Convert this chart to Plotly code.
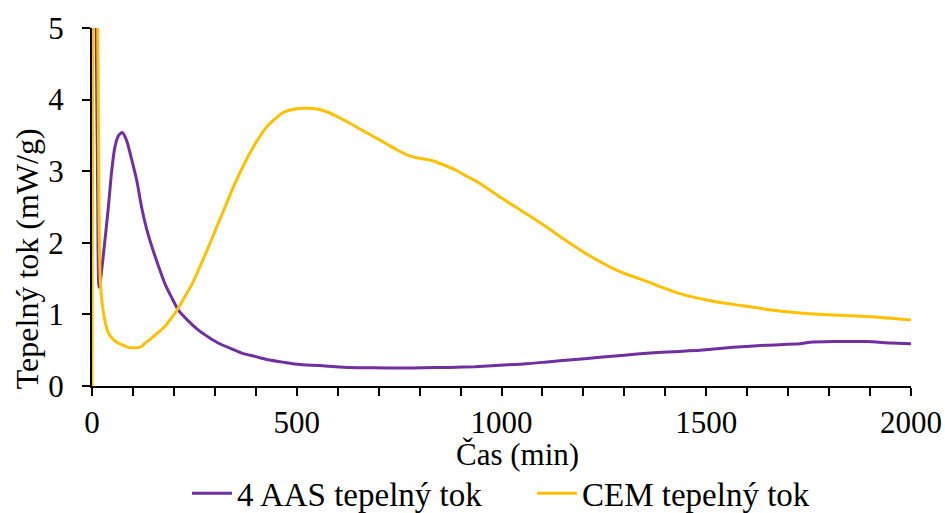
import plotly.graph_objects as go

# 4 AAS heat flow (purple)
aas_t = [0, 8, 11, 14, 17, 20, 30, 40, 48, 56, 65, 74, 85, 97, 110, 121, 133, 146, 162, 178,
         195, 211, 235, 260, 285, 308, 340, 366, 400, 427, 470, 508, 570, 630, 690, 752, 810,
         874, 935, 996, 1060, 1118, 1180, 1240, 1300, 1363, 1420, 1485, 1566, 1648, 1729,
         1753, 1810, 1892, 1950, 2000]
aas_v = [8.0, 6.0, 4.5, 2.6, 1.38, 1.45, 1.95, 2.50, 3.00, 3.34, 3.50, 3.54, 3.42, 3.16, 2.85,
         2.50, 2.20, 1.95, 1.68, 1.43, 1.23, 1.06, 0.91, 0.78, 0.68, 0.60, 0.52, 0.46, 0.41,
         0.37, 0.33, 0.30, 0.28, 0.26, 0.255, 0.25, 0.255, 0.26, 0.27, 0.29, 0.31, 0.34, 0.37,
         0.40, 0.43, 0.46, 0.48, 0.50, 0.54, 0.57, 0.59, 0.61, 0.62, 0.62, 0.60, 0.59]

# CEM heat flow (yellow)
cem_t = [0, 3, 8, 14, 17, 20, 28, 40, 52, 64, 76, 89, 103, 117, 123, 129, 137, 146, 162, 178,
         190, 203, 215, 227, 245, 260, 285, 308, 330, 349, 370, 390, 408, 427, 447, 467, 495,
         524, 550, 573, 600, 630, 660, 695, 720, 744, 777, 800, 830, 858, 890, 915, 947, 996,
         1029, 1070, 1110, 1150, 1192, 1230, 1273, 1310, 1355, 1395, 1436, 1485, 1530, 1566,
         1648, 1729, 1810, 1892, 1950, 2000]
cem_v = [0.0, 8.0, 7.0, 5.0, 2.5, 1.5, 1.02, 0.74, 0.65, 0.60, 0.57, 0.54, 0.535, 0.54, 0.56,
         0.60, 0.63, 0.67, 0.75, 0.83, 0.92, 1.02, 1.13, 1.25, 1.43, 1.62, 1.95, 2.27, 2.57,
         2.83, 3.08, 3.30, 3.47, 3.62, 3.73, 3.82, 3.87, 3.88, 3.87, 3.83, 3.76, 3.67, 3.57,
         3.46, 3.38, 3.30, 3.21, 3.18, 3.15, 3.09, 3.01, 2.93, 2.83, 2.64, 2.52, 2.37, 2.22,
         2.06, 1.90, 1.77, 1.64, 1.55, 1.46, 1.37, 1.29, 1.22, 1.17, 1.14, 1.07, 1.02, 0.99,
         0.97, 0.945, 0.92]

series_names = ["4 AAS tepelný tok", "CEM tepelný tok"]
x_title = "Čas (min)"
y_title = "Tepelný tok (mW/g)"

FONT = "Times New Roman"
fig = go.Figure()
fig.add_trace(go.Scatter(x=aas_t, y=aas_v, mode="lines", name=series_names[0],
                         line=dict(color="#7030A0", width=3, shape="spline", smoothing=0.6)))
fig.add_trace(go.Scatter(x=cem_t, y=cem_v, mode="lines", name=series_names[1],
                         line=dict(color="#FFC000", width=3, shape="spline", smoothing=0.6)))

fig.update_layout(
    width=945, height=513,
    margin=dict(l=92, r=34, t=28, b=127, autoexpand=False),
    plot_bgcolor="white", paper_bgcolor="white",
    font=dict(family=FONT, size=31, color="black"),
    showlegend=True,
    legend=dict(orientation="h", x=0.116, xanchor="left", y=-0.30, yanchor="middle",
                font=dict(family=FONT, size=33, color="black"), itemwidth=40,
                entrywidth=290, bgcolor="rgba(0,0,0,0)"),
    xaxis=dict(range=[0, 2000], dtick=500, tick0=0, showgrid=False, zeroline=False,
               showline=True, linecolor="black", linewidth=2, automargin=False,
               ticks="outside", ticklen=8, tickwidth=2, tickcolor="black",
               minor=dict(dtick=100, ticks="outside", ticklen=8, tickwidth=2,
                          tickcolor="black", showgrid=False),
               tickfont=dict(family=FONT, size=31, color="black")),
    yaxis=dict(range=[0, 5], dtick=1, tick0=0, showgrid=False, zeroline=False,
               showline=True, linecolor="black", linewidth=2, automargin=False,
               ticks="outside", ticklen=8, tickwidth=2, tickcolor="black",
               ticklabelstandoff=12,
               tickfont=dict(family=FONT, size=31, color="black")),
    annotations=[
        dict(text=x_title, xref="paper", yref="paper", x=0.519, y=-0.19,
             xanchor="center", yanchor="middle", showarrow=False,
             font=dict(family=FONT, size=31, color="black")),
        dict(text=y_title, xref="paper", yref="paper", x=-0.079, y=0.355,
             xanchor="center", yanchor="middle", textangle=-90, showarrow=False,
             font=dict(family=FONT, size=32, color="black")),
    ],
)

fig.write_html("out.html", config={"displayModeBar": False},
               post_script="document.body.style.margin='0';document.body.style.padding='0';")
